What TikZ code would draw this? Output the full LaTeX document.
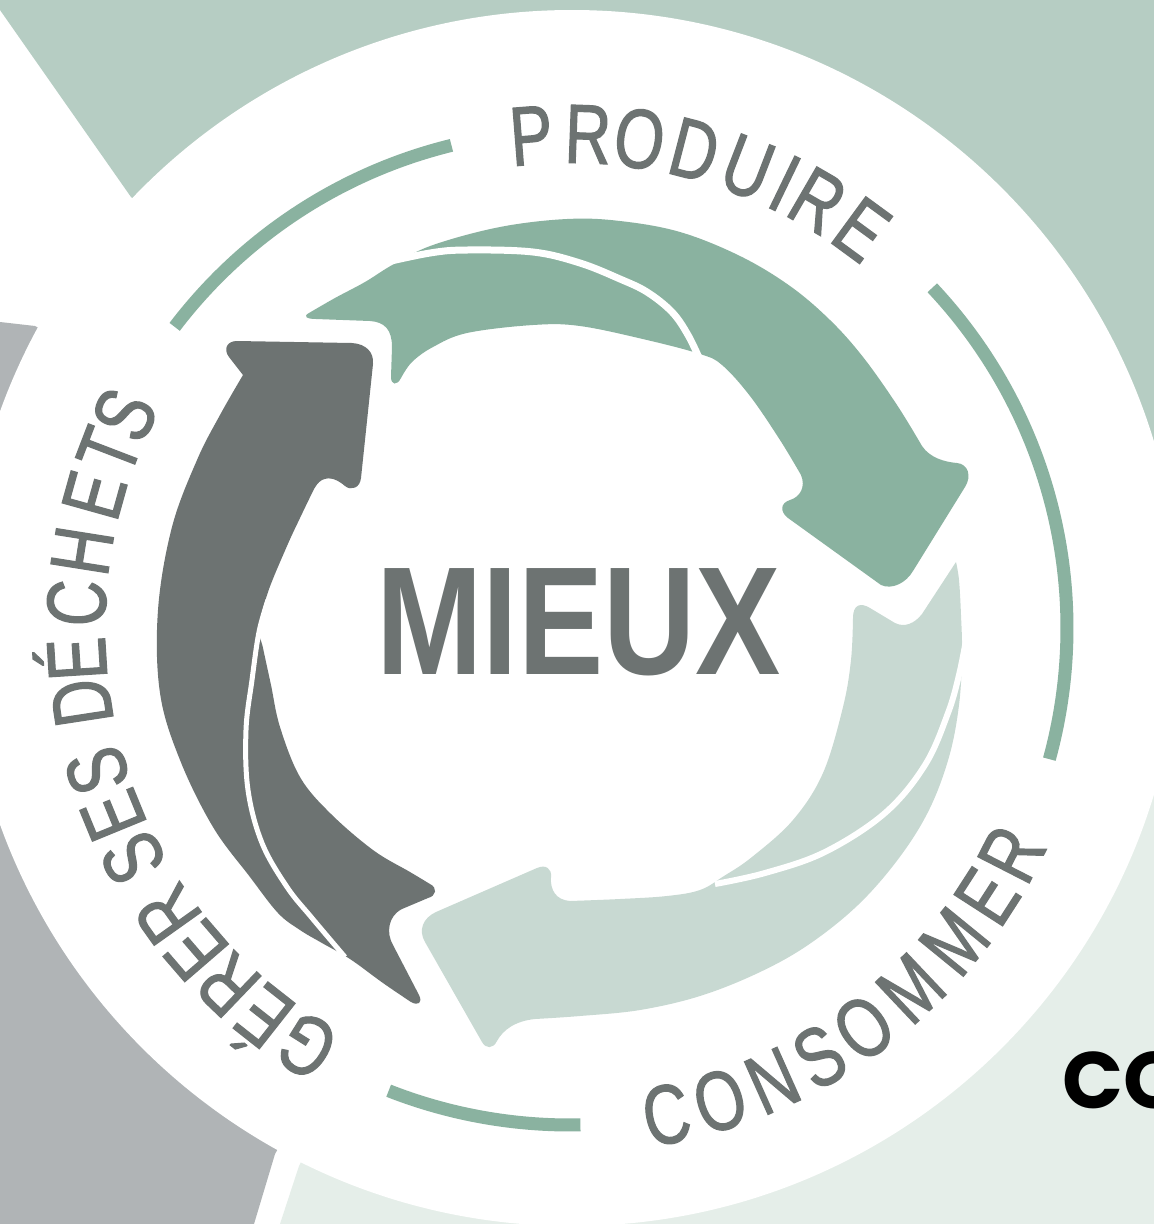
\documentclass[tikz,border=0pt]{standalone}
\usepackage{fontspec}
\newfontfamily\ringfont[FakeStretch=0.76,FakeBold=1.4]{Liberation Sans}
\newfontfamily\mieuxfont[FakeStretch=0.83]{Liberation Sans}
\newfontfamily\cofont{Poppins}
\definecolor{bgGreen}{HTML}{B6CDC3}
\definecolor{bgGray}{HTML}{B0B4B6}
\definecolor{bgLight}{HTML}{E5EEE9}
\definecolor{ringGreen}{HTML}{8AB2A0}
\definecolor{darkGray}{HTML}{6D7372}
\definecolor{lightArrow}{HTML}{C8D9D2}
\begin{document}
\begin{tikzpicture}[x=1pt,y=1pt,
  ringarc/.style={draw=ringGreen,line width=13pt,line cap=butt},
  cutline/.style={draw=white,line cap=butt},
  ringletter/.style={text=darkGray,inner sep=0pt,font={\ringfont\fontsize{84}{84}\selectfont}}]
\useasboundingbox (0,0) rectangle (1154,-1224);
\clip (0,0) rectangle (1154,-1224);
\fill[white] (0,0) rectangle (1154,-1224);
% background sectors
\fill[bgGreen] (0,0) -- (1154,0) -- (1154,-445) -- (572,-618) -- (131,-197) -- (0,-10) -- cycle;
\fill[bgGray] (0,-322) -- (35,-326) -- (572,-618) -- (275,-1154) -- (254,-1224) -- (0,-1224) -- cycle;
\fill[bgLight] (280,-1224) -- (299,-1166) -- (572,-618) -- (1154,-618) -- (1154,-1224) -- cycle;
\fill[white] (572,-618) circle[radius=608pt];
% thin ring arcs
\begin{scope}[shift={(570,-628)}]
\draw[ringarc] (142.7:497pt) arc[start angle=142.7,end angle=103.8,radius=497pt];
\draw[ringarc] (43.2:497pt) arc[start angle=43.2,end angle=-15.3,radius=497pt];
\draw[ringarc] (-111.4:497pt) arc[start angle=-111.4,end angle=-88.8,radius=497pt];
\end{scope}
% gray arrow
\fill[darkGray] (243,-375) -- (229,-357)
  .. controls (223,-349) and (227,-341) .. (237,-341)
  -- (352,-343)
  .. controls (366,-344) and (374,-352) .. (373,-364)
  -- (361,-478)
  .. controls (360,-488) and (351,-491) .. (345,-486)
  .. controls (338,-480) and (330,-476) .. (322,-480)
  .. controls (318,-482) and (315,-487) .. (313,-491)
  -- plot[smooth,tension=0.6] coordinates {(313,-491) (300,-518) (287,-546) (268,-592) (259,-628) (263,-648) (271,-685) (280,-727) (300,-777) (330,-813) (373,-850) (410,-872) (430,-884)}
  .. controls (438,-888) and (436,-896) .. (428,-898)
  -- (402,-909)
  .. controls (388,-916) and (386,-933) .. (393,-945)
  -- (419,-995)
  .. controls (423,-1003) and (418,-1006) .. (411,-1002)
  -- plot[smooth,tension=0.6] coordinates {(411,-1002) (383,-983) (350,-959) (322,-943) (300,-930) (278,-913) (250,-877) (213,-827) (180,-760) (160,-693) (158,-610) (172,-527) (197,-460) (220,-415) (243,-375)}
  -- cycle;
\draw[cutline,line width=5pt] plot[smooth,tension=0.6] coordinates {(268,-600) (259,-632) (252,-680) (246,-730) (248,-790) (262,-843) (287,-887) (312,-918) (345,-957)};
% green arrow
\fill[ringGreen] plot[smooth,tension=0.6] coordinates {(309,-313) (335,-298) (365,-282) (394,-264) (433,-245) (500,-227) (567,-219) (620,-221) (680,-232) (740,-256) (790,-286) (830,-320) (863,-357) (897,-405) (922,-446)}
  .. controls (930,-458) and (945,-462) .. (957,-463)
  .. controls (968,-464) and (972,-476) .. (965,-487)
  -- (913,-571)
  .. controls (906,-583) and (892,-590) .. (881,-585)
  -- (788,-518)
  .. controls (780,-512) and (780,-503) .. (790,-500)
  .. controls (800,-497) and (806,-487) .. (801,-475)
  -- plot[smooth,tension=0.6] coordinates {(801,-475) (780,-440) (750,-396) (722,-365) (700,-354) (647,-340) (580,-326) (533,-325) (467,-333) (433,-347) (412,-362) (401,-378)}
  .. controls (397,-386) and (391,-385) .. (391,-377)
  -- (392,-347)
  .. controls (392,-330) and (385,-322) .. (370,-321)
  -- (316,-319)
  .. controls (306,-319) and (303,-316) .. (309,-313)
  -- cycle;
\draw[cutline,line width=7pt] plot[smooth,tension=0.6] coordinates {(378,-264) (430,-253) (467,-250) (533,-252) (580,-263) (620,-279) (647,-292) (672,-312) (688,-335) (700,-360)};
% light arrow
\fill[lightArrow] plot[smooth,tension=0.6] coordinates {(956,-562) (959,-580) (961,-615) (962,-655) (959,-705) (949,-757) (929,-810) (899,-858) (858,-905) (808,-945) (758,-973) (700,-996) (640,-1010) (580,-1016) (535,-1019)}
  .. controls (515,-1021) and (503,-1030) .. (497,-1041)
  .. controls (493,-1049) and (486,-1049) .. (482,-1042)
  -- (425,-942)
  .. controls (418,-930) and (423,-918) .. (436,-912)
  -- (537,-868)
  .. controls (546,-864) and (552,-869) .. (551,-877)
  .. controls (550,-890) and (556,-900) .. (570,-901)
  -- plot[smooth,tension=0.6] coordinates {(570,-901) (620,-899) (667,-896) (700,-890) (724,-876) (752,-857) (793,-820) (823,-773) (843,-707) (851,-660) (853,-618)}
  .. controls (853,-605) and (860,-602) .. (870,-608)
  -- (895,-623)
  .. controls (905,-628) and (915,-623) .. (922,-614)
  -- (956,-562)
  -- cycle;
\draw[cutline,line width=6pt] plot[smooth,tension=0.6] coordinates {(715,-884) (765,-873) (825,-852) (885,-813) (925,-765) (948,-713) (959,-675) (966,-640)};
% centre word
\node[text=darkGray,inner sep=0pt,font={\mieuxfont\bfseries\fontsize{154}{154}\selectfont}] (mieux) at (578.5,-622) {MIEUX};
% ring texts
\begin{scope}[shift={(570,-628)}]
\foreach \ch/\ang [count=\i] in {P/94.5,R/87.9,O/81.9,D/75.4,U/68.9,I/64.2,R/59.9,E/53.8}
  \node[ringletter,anchor=base,rotate=\ang-90] (prod\i) at (\ang:465pt) {\ch};
\foreach \ch/\ang [count=\i] in {G/237.8,É/231.8,R/226.2,E/220.8,R/215.4,S/207.8,E/202.3,S/196.8,D/188.7,É/183.6,C/177.1,H/171.0,E/164.4,T/159.0,S/154.4}
  \node[ringletter,anchor=base,rotate=\ang-90] (dech\i) at (\ang:465pt) {\ch};
\foreach \ch/\ang [count=\i] in {C/-78.8,O/-72.4,N/-65.9,S/-59.8,O/-53.7,M/-46.6,M/-39.2,E/-32.8,R/-27.1}
  \node[ringletter,anchor=base,rotate=\ang+90] (cons\i) at (\ang:525pt) {\ch};
\end{scope}
% cut-off word at right
\node[anchor=base west,inner sep=0pt,text=black,font={\cofont\bfseries\fontsize{80}{80}\selectfont}] (co) at (1062,-1108) {CO};
\end{tikzpicture}
\end{document}
